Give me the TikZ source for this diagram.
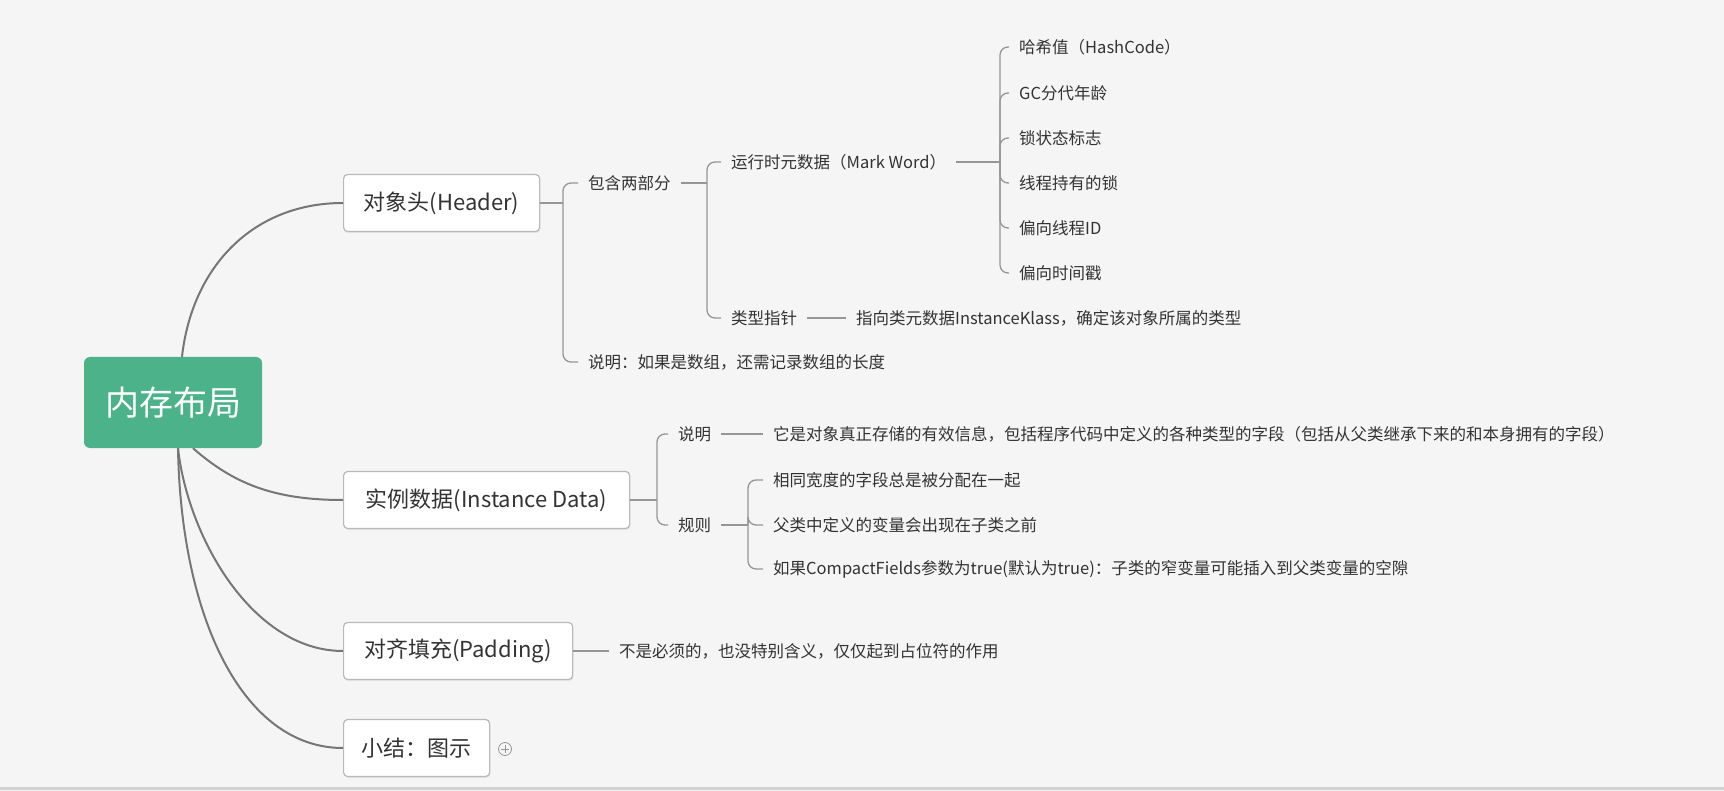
\documentclass[tikz,border=0pt]{standalone}
\usepackage{fontspec}
\setmainfont{Noto Sans CJK SC}
\usetikzlibrary{shadows}

\definecolor{rootgreen}{RGB}{75,178,137}
\definecolor{pagebg}{RGB}{245,245,245}
\definecolor{linegray}{RGB}{118,118,118}
\definecolor{subgray}{RGB}{150,150,150}
\definecolor{boxgray}{RGB}{185,185,185}
\definecolor{inkgray}{RGB}{51,51,51}

\begin{document}
\begin{tikzpicture}[x=1pt, y=-1pt,
		rootbox/.style={fill=rootgreen, rounded corners=6pt, text=white, font=\fontsize{34}{40}\selectfont, minimum width=178pt, minimum height=91pt},
		topic/.style={anchor=west, draw=boxgray, line width=1.2pt, fill=white, rounded corners=4pt, text=inkgray, font=\fontsize{22}{26}\selectfont, minimum height=57pt, drop shadow={opacity=0.12, shadow xshift=1pt, shadow yshift=-1.5pt}},
		leaf/.style={anchor=west, inner xsep=10pt, inner ysep=2pt, text=inkgray, font=\fontsize{16.5}{20}\selectfont},
		branch/.style={draw=linegray, line width=2pt},
		twig/.style={draw=subgray, line width=1.3pt, rounded corners=8pt}]
			\useasboundingbox (0,0) rectangle (1724,791);
			\fill[pagebg] (0,0) rectangle (1724,791);
			\draw[line width=3pt, gray!35] (0,788) -- (1724,788);
			
			\node[rootbox] (root) at (173, 402.5) {内存布局};
			
			\node[topic, minimum width=196pt] (hdr) at (343, 203) {对象头(Header)};
			\node[topic, minimum width=286pt] (inst) at (343, 500) {实例数据(Instance Data)};
			\node[topic, minimum width=229pt] (pad) at (343, 651) {对齐填充(Padding)};
			\node[topic, minimum width=146pt] (sum) at (343, 748) {小结：图示};
			
			\draw[branch] ([xshift=9pt]root.north) .. controls +(10,-90) and +(-90,0) .. (hdr.west);
			\draw[branch] ([xshift=20pt]root.south) .. controls +(40,35) and +(-70,0) .. (inst.west);
			\draw[branch] ([xshift=5pt]root.south) .. controls +(10,90) and +(-90,0) .. (pad.west);
			\draw[branch] ([xshift=5pt]root.south) .. controls +(3,170) and +(-100,0) .. (sum.west);
			
			% object header
			\node[leaf] (two) at (578, 183) {包含两部分};
			\node[leaf] (hnote) at (578, 362) {说明：如果是数组，还需记录数组的长度};
			\node[leaf] (mark) at (721, 162) {运行时元数据（Mark Word）};
			\node[leaf] (kptr) at (721, 318) {类型指针};
			\node[leaf] (kdesc) at (846, 318) {指向类元数据InstanceKlass，确定该对象所属的类型};
			
			\node[leaf] (hash) at (1009, 47) {哈希值（HashCode）};
			\node[leaf] (age) at (1009, 93) {GC分代年龄};
			\node[leaf] (lock) at (1009, 138) {锁状态标志};
			\node[leaf] (own) at (1009, 183) {线程持有的锁};
			\node[leaf] (tid) at (1009, 228) {偏向线程ID};
			\node[leaf] (stamp) at (1009, 273) {偏向时间戳};
			
			\coordinate (hj) at (563, 203);
			\draw[twig] (hdr.east) -- (hj);
			\draw[twig] (hj) |- (two.west);
			\draw[twig] (hj) |- (hnote.west);
			
			\coordinate (tj) at (707, 183);
			\draw[twig] (two.east) -- (tj);
			\draw[twig] (tj) |- (mark.west);
			\draw[twig] (tj) |- (kptr.west);
			\draw[twig] (kptr.east) -- (kdesc.west);
			
			\coordinate (mj) at (1000, 162);
			\draw[twig] (mark.east) -- (mj);
			\draw[twig] (mj) |- (hash.west);
			\draw[twig] (mj) |- (age.west);
			\draw[twig] (mj) |- (lock.west);
			\draw[twig] (mj) |- (own.west);
			\draw[twig] (mj) |- (tid.west);
			\draw[twig] (mj) |- (stamp.west);
			
			% instance data
			\node[leaf] (inote) at (668, 434) {说明};
			\node[leaf] (idesc) at (763, 434) {它是对象真正存储的有效信息，包括程序代码中定义的各种类型的字段（包括从父类继承下来的和本身拥有的字段）};
			\node[leaf] (rule) at (668, 525) {规则};
			\node[leaf] (same) at (763, 480) {相同宽度的字段总是被分配在一起};
			\node[leaf] (order) at (763, 525) {父类中定义的变量会出现在子类之前};
			\node[leaf] (gap) at (763, 569) {如果CompactFields参数为true(默认为true)：子类的窄变量可能插入到父类变量的空隙};
			
			\coordinate (ij) at (657, 500);
			\draw[twig] (inst.east) -- (ij);
			\draw[twig] (ij) |- (inote.west);
			\draw[twig] (ij) |- (rule.west);
			\draw[twig] (inote.east) -- (idesc.west);
			
			\coordinate (rj) at (748, 525);
			\draw[twig] (rule.east) -- (rj);
			\draw[twig] (rj) |- (same.west);
			\draw[twig] (rj) |- (order.west);
			\draw[twig] (rj) |- (gap.west);
			
			% padding
			\node[leaf] (pdesc) at (609, 651) {不是必须的，也没特别含义，仅仅起到占位符的作用};
			\draw[twig] (pad.east) -- (pdesc.west);
			
			\node[draw=subgray, circle, line width=0.8pt, minimum size=13pt, inner sep=0pt] (fold) at (505, 749) {};
			\draw[subgray, line width=0.8pt, shorten <=3pt, shorten >=3pt] (fold.north) -- (fold.south);
			\draw[subgray, line width=0.8pt, shorten <=3pt, shorten >=3pt] (fold.west) -- (fold.east);
		\end{tikzpicture}
\end{document}
